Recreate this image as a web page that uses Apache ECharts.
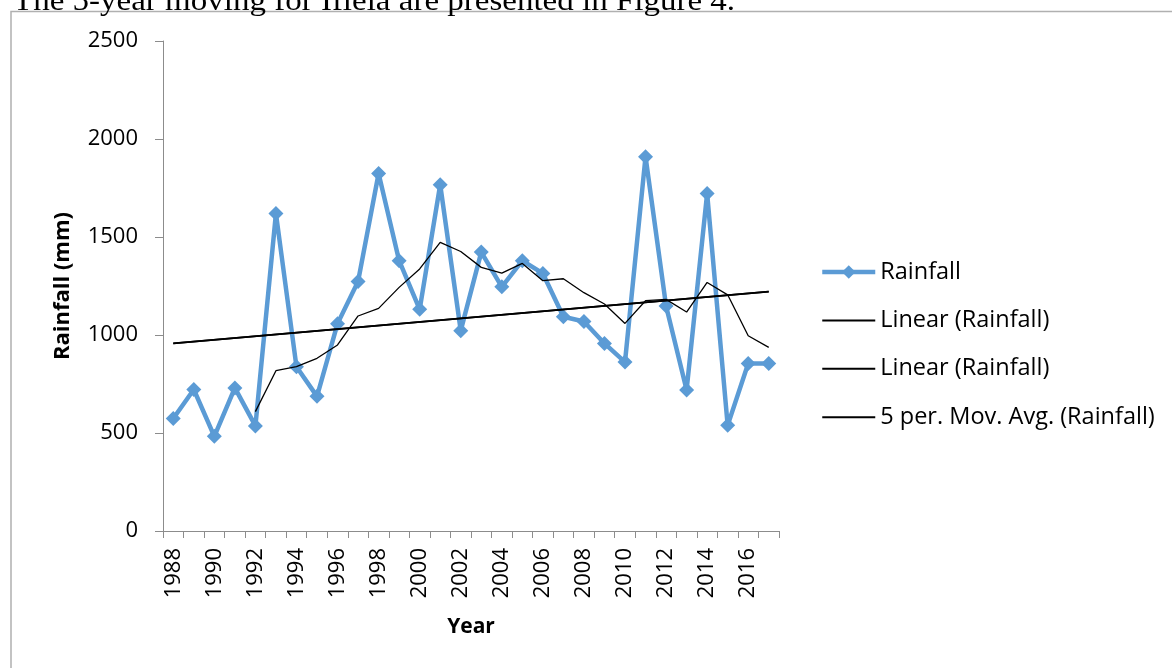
<!DOCTYPE html>
<html>
<head>
<meta charset="utf-8">
<script src="https://cdn.jsdelivr.net/npm/echarts@6/dist/echarts.min.js"></script>
<style>
html,body{margin:0;padding:0;background:#fff;}
#main{width:1172px;height:668px;}
</style>
</head>
<body>
<div id="main"></div>
<script>
var years = ['1988','1989','1990','1991','1992','1993','1994','1995','1996','1997','1998','1999','2000','2001','2002','2003','2004','2005','2006','2007','2008','2009','2010','2011','2012','2013','2014','2015','2016','2017'];
var rainfall = [574,722,483,730,536,1620,838,687,1058,1273,1824,1379,1131,1767,1022,1423,1246,1379,1314,1093,1069,957,862,1910,1148,719,1722,539,855,855];
var movingAvg = [null,null,null,null,609,818,839,881,949,1097,1136,1243,1337,1473,1426,1345,1316,1365,1277,1287,1216,1158,1059,1175,1182,1117,1268,1205,996,937];
var linearEnds = [['1988',957],['2017',1221]];
var yTicks = {min:0, max:2500, interval:500};

var chart = echarts.init(document.getElementById('main'), null, {renderer:'canvas'});
var labelFont = 'Open Sans';
chart.setOption({
  animation:false,
  backgroundColor:'#fff',
  graphic:[
    {type:'rect', shape:{x:11, y:11.5, width:1300, height:800}, style:{fill:'none', stroke:'#b0b0b0', lineWidth:1.5}},
    {type:'text', x:13, y:17, scaleX:1.1, style:{text:'The 5-year moving for Ifiela are presented in Figure 4.', font:'30px "Liberation Serif"', fill:'#000', verticalAlign:'bottom', align:'left'}}
  ],
  grid:{left:163, right:393, top:41, bottom:137, containLabel:false},
  legend:{
    orient:'vertical', left:820, top:260, padding:0,
    itemWidth:53, itemHeight:17, itemGap:24.4,
    textStyle:{fontFamily:labelFont, fontSize:23.5, color:'#000'},
    data:[
      {name:'Rainfall', lineStyle:{width:4.5}},
      {name:'Linear (Rainfall)', itemStyle:{opacity:0}},
      {name:'Linear (Rainfall) ', itemStyle:{opacity:0}},
      {name:'5 per. Mov. Avg. (Rainfall)', itemStyle:{opacity:0}}
    ]
  },
  xAxis:{
    type:'category', data:years, boundaryGap:true,
    name:'Year', nameLocation:'middle', nameGap:86,
    nameTextStyle:{fontFamily:labelFont, fontSize:21, fontWeight:'bold', color:'#000'},
    axisLine:{lineStyle:{color:'#8c8c8c', width:1}},
    axisTick:{show:true, interval:0, length:7, lineStyle:{color:'#8c8c8c'}},
    axisLabel:{interval:1, rotate:90, margin:17, fontFamily:labelFont, fontSize:22, color:'#000'},
    splitLine:{show:false}
  },
  yAxis:{
    type:'value', min:yTicks.min, max:yTicks.max, interval:yTicks.interval,
    name:'Rainfall (mm)', nameLocation:'middle', nameGap:89,
    nameTextStyle:{fontFamily:labelFont, fontSize:22, fontWeight:'bold', color:'#000'},
    axisLine:{show:true, lineStyle:{color:'#8c8c8c', width:1}},
    axisTick:{show:true, length:8, lineStyle:{color:'#8c8c8c'}},
    axisLabel:{margin:25, fontFamily:labelFont, fontSize:22, color:'#000', formatter:function(v){return String(v);}},
    splitLine:{show:false}
  },
  series:[
    {name:'Rainfall', type:'line', data:rainfall, symbol:'diamond', symbolSize:15, showAllSymbol:true,
     itemStyle:{color:'#5b9bd5'}, lineStyle:{color:'#5b9bd5', width:4.5}, z:2},
    {name:'Linear (Rainfall)', type:'line', data:linearEnds, symbol:'none',
     itemStyle:{color:'#000'}, lineStyle:{color:'#000', width:1.8}, z:3},
    {name:'Linear (Rainfall) ', type:'line', data:linearEnds, symbol:'none',
     itemStyle:{color:'#000'}, lineStyle:{color:'#000', width:1.8}, z:3},
    {name:'5 per. Mov. Avg. (Rainfall)', type:'line', data:movingAvg, symbol:'none',
     itemStyle:{color:'#000'}, lineStyle:{color:'#000', width:1.3}, z:3}
  ]
});
</script>
</body>
</html>
